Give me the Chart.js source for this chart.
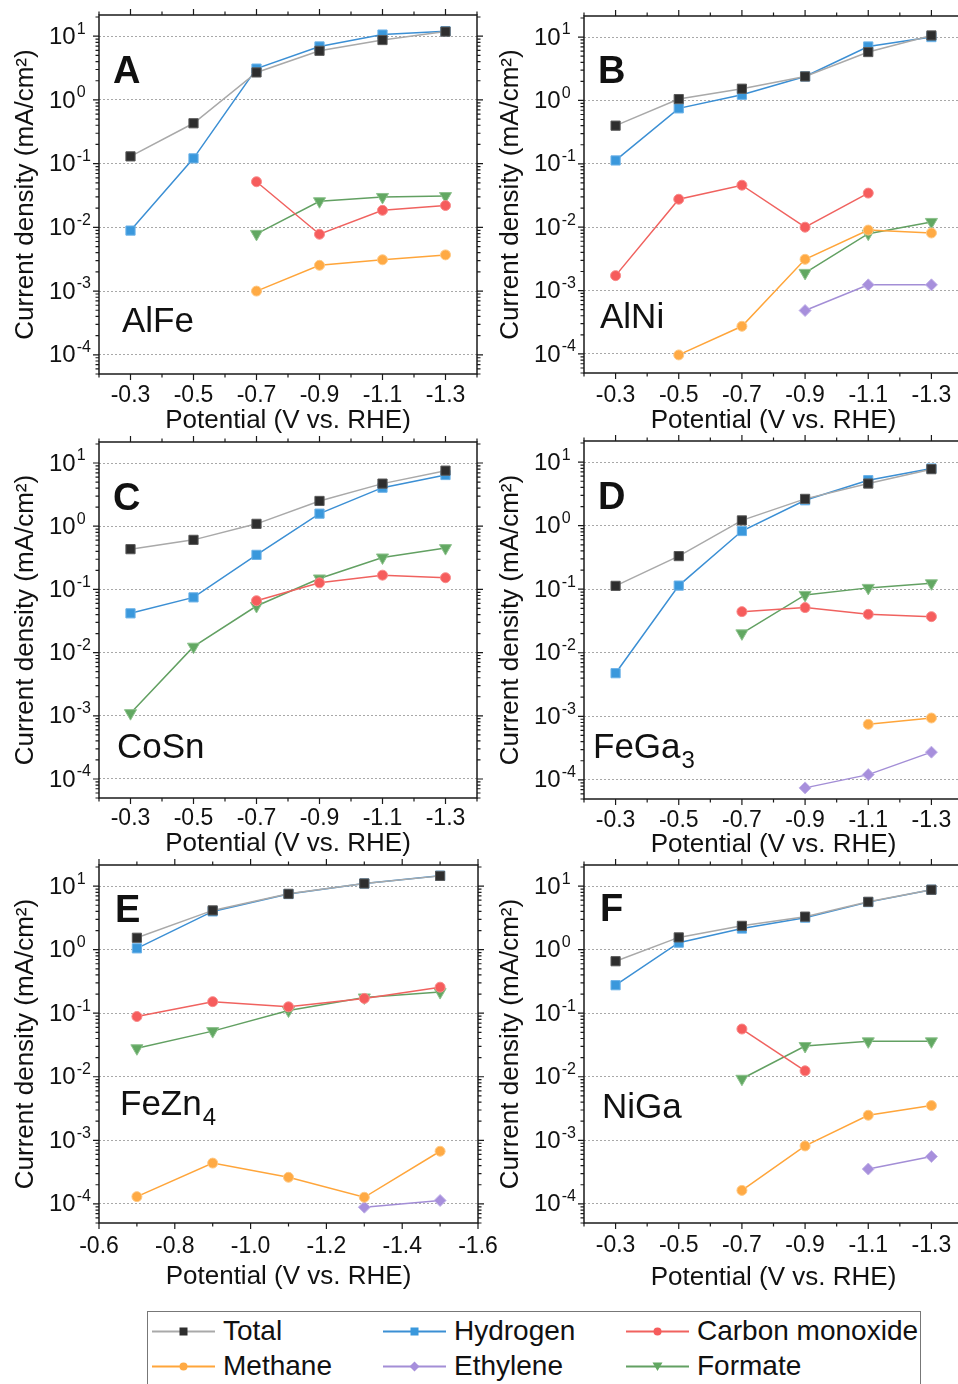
<!DOCTYPE html>
<html>
<head>
<meta charset="utf-8">
<script src="https://cdn.jsdelivr.net/npm/chart.js@4"></script>
<style>
  body { margin: 0; background: #fff; width: 958px; height: 1384px; overflow: hidden; position: relative; }
  canvas { position: absolute; }
  #legend { position: absolute; left: 147px; top: 1311px; width: 774px; height: 90px; border: 1.5px solid #777; box-sizing: border-box; font-family: "Liberation Sans", Arial, sans-serif; }
  .item { position: absolute; height: 30px; display: flex; align-items: center; font-size: 28px; color: #111; white-space: nowrap; }
  .item svg { margin-right: 8px; }
</style>
</head>
<body>
<div id="legend"></div>
<script>
var FONT = '"Liberation Sans", Arial, sans-serif';

// x positions (V vs. RHE)
var potentials = [-0.3, -0.5, -0.7, -0.9, -1.1, -1.3];
var potentialsE = [-0.7, -0.9, -1.1, -1.3, -1.5];
var xTickLabels = [-0.3, -0.5, -0.7, -0.9, -1.1, -1.3];
var xTickLabelsE = [-0.6, -0.8, -1.0, -1.2, -1.4, -1.6];
var yTickDecades = [1e-4, 1e-3, 1e-2, 1e-1, 1e0, 1e1];
var seriesNames = ['Total', 'Hydrogen', 'Carbon monoxide', 'Methane', 'Ethylene', 'Formate'];

// A - AlFe
var alfeTotal = [0.13, 0.43, 2.7, 5.9, 8.7, 11.8];
var alfeHydrogen = [0.0089, 0.121, 3.1, 6.9, 10.6, 12.0];
var alfeCO = [null, null, 0.052, 0.0078, 0.0185, 0.022];
var alfeMethane = [null, null, 0.0010, 0.00254, 0.0031, 0.0037];
var alfeFormate = [null, null, 0.0079, 0.0257, 0.030, 0.031];

// B - AlNi
var alniTotal = [0.40, 1.05, 1.53, 2.39, 5.8, 10.6];
var alniHydrogen = [0.113, 0.75, 1.23, 2.39, 7.1, 10.0];
var alniCO = [0.00172, 0.0276, 0.046, 0.0100, 0.0345, null];
var alniMethane = [null, 0.0000964, 0.000273, 0.00311, 0.0090, 0.0081];
var alniEthylene = [null, null, null, 0.000484, 0.00123, 0.00123];
var alniFormate = [null, null, null, 0.0019, 0.0079, 0.0121];

// C - CoSn
var cosnTotal = [0.433, 0.608, 1.09, 2.51, 4.72, 7.57];
var cosnHydrogen = [0.0418, 0.0748, 0.352, 1.58, 4.07, 6.46];
var cosnCO = [null, null, 0.0662, 0.127, 0.168, 0.153];
var cosnFormate = [0.0011, 0.0124, 0.0546, 0.149, 0.32, 0.45];

// D - FeGa3
var fega3Total = [0.113, 0.332, 1.21, 2.64, 4.6, 7.75];
var fega3Hydrogen = [0.00477, 0.114, 0.824, 2.51, 5.2, 7.94];
var fega3CO = [null, null, 0.0444, 0.0514, 0.0403, 0.037];
var fega3Methane = [null, null, null, null, 0.000748, 0.000941];
var fega3Ethylene = [null, null, null, 0.0000748, 0.000121, 0.000273];
var fega3Formate = [null, null, 0.0202, 0.0814, 0.105, 0.124];

// E - FeZn4 (potentialsE)
var fezn4Total = [1.54, 4.15, 7.56, 11.0, 14.5];
var fezn4Hydrogen = [1.05, 4.0, 7.5, 11.0, 14.6];
var fezn4CO = [0.0887, 0.152, 0.126, 0.171, 0.257];
var fezn4Methane = [0.00013, 0.000438, 0.000262, 0.000127, 0.000673];
var fezn4Ethylene = [null, null, null, 0.0000887, 0.000113];
var fezn4Formate = [0.0281, 0.0523, 0.11, 0.177, 0.215];

// F - NiGa
var nigaTotal = [0.658, 1.56, 2.37, 3.31, 5.67, 8.77];
var nigaHydrogen = [0.276, 1.29, 2.15, 3.19, 5.6, 8.77];
var nigaCO = [null, null, 0.0564, 0.0124, null, null];
var nigaMethane = [null, null, 0.000163, 0.000816, 0.00248, 0.00352];
var nigaEthylene = [null, null, null, null, 0.000353, 0.000556];
var nigaFormate = [null, null, 0.0093, 0.0305, 0.0361, 0.0361];

var seriesStyles = [
  { line: '#a9a9a9', fill: '#2e2e2e', edge: '#5a5a5a', shape: 'rect', r: 6.5, rot: 0 },
  { line: '#3b8fd4', fill: '#3a98dc', edge: '#6cb2e8', shape: 'rect', r: 6.5, rot: 0 },
  { line: '#f0625f', fill: '#f65c5c', edge: '#f88a8a', shape: 'circle', r: 5, rot: 0 },
  { line: '#ffa53a', fill: '#ffaa44', edge: '#ffc985', shape: 'circle', r: 5, rot: 0 },
  { line: '#a38ed6', fill: '#a78fdc', edge: '#c2b3e8', shape: 'rectRot', r: 6, rot: 0 },
  { line: '#62a062', fill: '#62a862', edge: '#8ec28e', shape: 'triangle', r: 7, rot: 180 }
];

var panels = [
  { letter: 'A', name: 'AlFe', sub: '', L: 99, T: 15, R: 477, B: 374, labelGap: 12.7, titleGap: 47, lx: 14, ly: 68, nx: 23, ny: 317,
    x: potentials, xMin: -1.4, xMax: -0.2, xLabels: xTickLabels,
    values: [alfeTotal, alfeHydrogen, alfeCO, alfeMethane, null, alfeFormate] },
  { letter: 'B', name: 'AlNi', sub: '', L: 584, T: 16, R: 963, B: 373, labelGap: 14, titleGap: 48, lx: 14, ly: 67, nx: 16, ny: 312,
    x: potentials, xMin: -1.4, xMax: -0.2, xLabels: xTickLabels,
    values: [alniTotal, alniHydrogen, alniCO, alniMethane, alniEthylene, alniFormate] },
  { letter: 'C', name: 'CoSn', sub: '', L: 99, T: 442, R: 477, B: 798, labelGap: 12, titleGap: 46, lx: 14, ly: 68, nx: 18, ny: 316,
    x: potentials, xMin: -1.4, xMax: -0.2, xLabels: xTickLabels,
    values: [cosnTotal, cosnHydrogen, cosnCO, null, null, cosnFormate] },
  { letter: 'D', name: 'FeGa', sub: '3', L: 584, T: 441, R: 963, B: 799, labelGap: 12.5, titleGap: 46, lx: 14, ly: 68, nx: 9, ny: 317,
    x: potentials, xMin: -1.4, xMax: -0.2, xLabels: xTickLabels,
    values: [fega3Total, fega3Hydrogen, fega3CO, fega3Methane, fega3Ethylene, fega3Formate] },
  { letter: 'E', name: 'FeZn', sub: '4', L: 99, T: 865, R: 478, B: 1223, labelGap: 15, titleGap: 54, lx: 16, ly: 57, nx: 21, ny: 250,
    x: potentialsE, xMin: -1.6, xMax: -0.6, xLabels: xTickLabelsE,
    values: [fezn4Total, fezn4Hydrogen, fezn4CO, fezn4Methane, fezn4Ethylene, fezn4Formate] },
  { letter: 'F', name: 'NiGa', sub: '', L: 584, T: 865, R: 963, B: 1223, labelGap: 14, titleGap: 55, lx: 16, ly: 56, nx: 18, ny: 253,
    x: potentials, xMin: -1.4, xMax: -0.2, xLabels: xTickLabels,
    values: [nigaTotal, nigaHydrogen, nigaCO, nigaMethane, nigaEthylene, nigaFormate] }
];

// frame, outward ticks, superscript y labels and panel captions
var framePlugin = {
  id: 'frame',
  afterDraw: function(chart, args, opts) {
    var p = opts.panel;
    var ctx = chart.ctx, a = chart.chartArea, xs = chart.scales.x, ys = chart.scales.y;
    ctx.save();
    ctx.strokeStyle = '#1a1a1a';
    ctx.lineWidth = 1.5;
    ctx.strokeRect(a.left, a.top, a.right - a.left, a.bottom - a.top);

    ctx.lineWidth = 1.2;
    ctx.beginPath();
    for (var k = Math.round(p.xMax * 10); k >= Math.round(p.xMin * 10); k--) {
      var v = k / 10;
      var major = p.xLabels.some(function(t) { return Math.abs(t - v) < 1e-6; });
      var len = major ? 6 : 3.5;
      var px = xs.getPixelForValue(v);
      ctx.moveTo(px, a.bottom); ctx.lineTo(px, a.bottom + len);
      ctx.moveTo(px, a.top); ctx.lineTo(px, a.top - len);
    }
    for (var e = -5; e <= 1; e++) {
      for (var m = 1; m <= 9; m++) {
        var val = m * Math.pow(10, e);
        if (val < ys.min || val > ys.max) continue;
        var py = ys.getPixelForValue(val);
        var l2 = m === 1 ? 6 : 3.5;
        ctx.moveTo(a.left, py); ctx.lineTo(a.left - l2, py);
        ctx.moveTo(a.right, py); ctx.lineTo(a.right + l2, py);
      }
    }
    ctx.stroke();

    ctx.fillStyle = '#111';
    ctx.textAlign = 'left';
    ctx.textBaseline = 'middle';
    yTickDecades.forEach(function(d) {
      var y = ys.getPixelForValue(d);
      var ex = Math.round(Math.log10(d));
      ctx.font = '24px ' + FONT;
      ctx.fillText('10', a.left - 50, y + 1);
      var w = ctx.measureText('10').width;
      ctx.font = '16px ' + FONT;
      ctx.fillText(String(ex), a.left - 50 + w + 1, y - 7);
    });

    ctx.textBaseline = 'alphabetic';
    ctx.font = 'bold 38px ' + FONT;
    ctx.fillText(p.letter, a.left + p.lx, a.top + p.ly);
    ctx.font = '35px ' + FONT;
    ctx.fillText(p.name, a.left + p.nx, a.top + p.ny);
    if (p.sub) {
      var nw = ctx.measureText(p.name).width;
      ctx.font = '24px ' + FONT;
      ctx.fillText(p.sub, a.left + p.nx + nw + 1, a.top + p.ny + 10);
    }
    ctx.restore();
  }
};

Chart.defaults.font.family = FONT;
Chart.defaults.color = '#111';

panels.forEach(function(p) {
  var cv = document.createElement('canvas');
  var cw = (p.R - p.L) + 99 + 30, ch = (p.B - p.T) + 15 + 72;
  cv.width = cw;
  cv.height = ch;
  cv.style.left = (p.L - 99) + 'px';
  cv.style.top = (p.T - 15) + 'px';
  document.body.appendChild(cv);

  var datasets = seriesNames.map(function(name, i) {
    var st = seriesStyles[i];
    var vals = p.values[i] || [];
    return {
      label: name,
      data: vals.map(function(v, j) { return { x: p.x[j], y: v }; }),
      borderColor: st.line,
      backgroundColor: st.fill,
      borderWidth: 1.5,
      pointStyle: st.shape,
      pointRadius: st.r,
      pointRotation: st.rot,
      pointBackgroundColor: st.fill,
      pointBorderColor: st.edge,
      pointBorderWidth: 1,
      fill: false,
      tension: 0
    };
  });

  new Chart(cv.getContext('2d'), {
    type: 'line',
    data: { datasets: datasets },
    plugins: [framePlugin],
    options: {
      responsive: false,
      animation: false,
      devicePixelRatio: 1,
      layout: { padding: { left: 0, top: 15, right: 30, bottom: 0 } },
      plugins: { legend: { display: false }, tooltip: { enabled: false }, frame: { panel: p } },
      scales: {
        x: {
          type: 'linear',
          reverse: true,
          min: p.xMin,
          max: p.xMax,
          afterBuildTicks: function(s) { s.ticks = p.xLabels.map(function(v) { return { value: v }; }); },
          afterFit: function(s) { s.height = 72; s.paddingLeft = 0; s.paddingRight = 0; },
          ticks: {
            font: { size: 23 },
            color: '#111',
            padding: p.labelGap - 5,
            maxRotation: 0,
            autoSkip: false,
            callback: function(v) { return Number(v).toFixed(1); }
          },
          grid: { display: false, drawTicks: false },
          border: { display: false },
          title: { display: true, text: 'Potential (V vs. RHE)', font: { size: 26 }, color: '#111',
                   padding: { top: 0, bottom: 72 - p.titleGap - 15.6 } }
        },
        y: {
          type: 'logarithmic',
          min: 5e-5,
          max: 21.5,
          afterBuildTicks: function(s) { s.ticks = yTickDecades.map(function(v) { return { value: v }; }); },
          afterFit: function(s) { s.width = 99; s.paddingTop = 0; s.paddingBottom = 0; },
          ticks: { display: false },
          grid: { color: '#a8a8a8', lineWidth: 1, drawTicks: false },
          border: { display: false, dash: [2, 2] },
          title: { display: true, text: 'Current density (mA/cm²)', font: { size: 26 }, color: '#111',
                   padding: { top: 10, bottom: 0 } }
        }
      }
    }
  });
});

// legend
var legendPos = [[4, 4], [235, 4], [478, 4], [4, 39], [235, 39], [478, 39]];
var legend = document.getElementById('legend');
seriesNames.forEach(function(name, i) {
  var st = seriesStyles[i];
  var mk;
  if (st.shape === 'rect') mk = '<rect x="27.5" y="6.5" width="8" height="8" fill="' + st.fill + '"/>';
  else if (st.shape === 'circle') mk = '<circle cx="31.5" cy="10.5" r="4" fill="' + st.fill + '"/>';
  else if (st.shape === 'rectRot') mk = '<polygon points="31.5,5.5 36.5,10.5 31.5,15.5 26.5,10.5" fill="' + st.fill + '"/>';
  else mk = '<polygon points="26.5,6.5 36.5,6.5 31.5,15" fill="' + st.fill + '"/>';
  var d = document.createElement('div');
  d.className = 'item';
  d.style.left = legendPos[i][0] + 'px';
  d.style.top = legendPos[i][1] + 'px';
  d.innerHTML = '<svg width="63" height="21"><line x1="0" y1="10.5" x2="63" y2="10.5" stroke="' + st.line +
    '" stroke-width="2"/>' + mk + '</svg><span>' + name + '</span>';
  legend.appendChild(d);
});
</script>
</body>
</html>
